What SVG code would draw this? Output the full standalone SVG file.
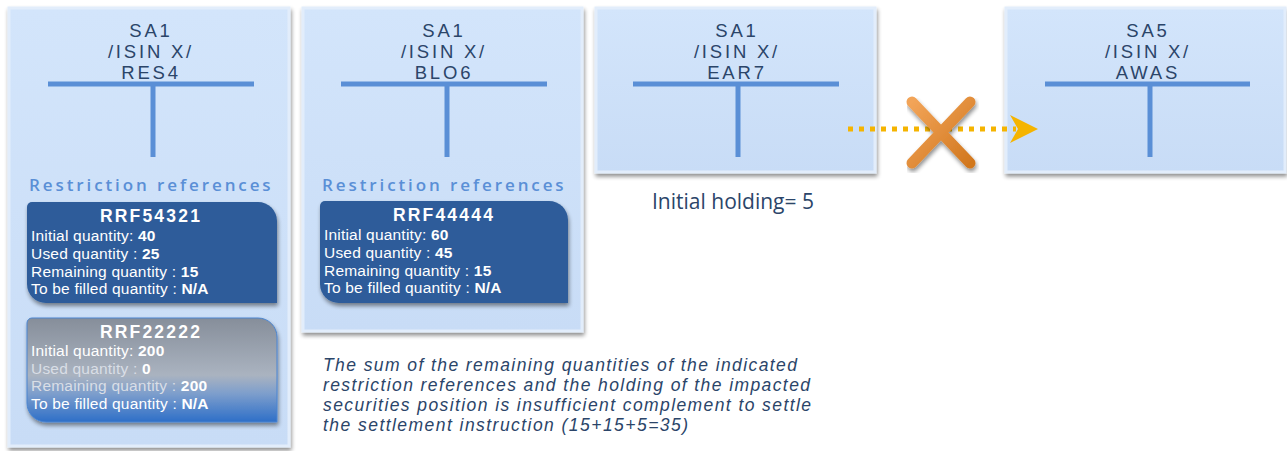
<svg xmlns="http://www.w3.org/2000/svg" width="1287" height="451" viewBox="0 0 1287 451">
<style>
.hdr{font-family:"Liberation Sans",Arial,sans-serif;font-size:18.5px;fill:#2b4569;text-anchor:middle;letter-spacing:2.8px}
.tbar{stroke:#5a8fd6;stroke-width:5;fill:none}
.rr{font-family:"Open Sans","Liberation Sans",sans-serif;font-size:17px;font-weight:600;fill:#5a8fd6;letter-spacing:2.9px}
.rt{font-family:"Liberation Sans",Arial,sans-serif;font-size:17.5px;font-weight:700;fill:#fff;text-anchor:middle;letter-spacing:2.2px}
.ln{font-family:"Liberation Sans",Arial,sans-serif;font-size:15.5px;fill:#fff;letter-spacing:0.2px}
.ln tspan.b{font-weight:700}
.fade{fill:#d9dee6}
.it{font-family:"Liberation Sans",Arial,sans-serif;font-size:17.5px;font-style:italic;fill:#2b4569}
.hold{font-family:"Open Sans","Liberation Sans",sans-serif;font-size:21px;fill:#2b4569}
.box{fill:url(#boxg);stroke:#e2edfb;stroke-width:3}
</style>
<defs>
<filter id="sh" x="-10%" y="-10%" width="125%" height="125%">
<feGaussianBlur in="SourceAlpha" stdDeviation="2"/>
<feOffset dx="1" dy="3"/>
<feComponentTransfer><feFuncA type="linear" slope="0.45"/></feComponentTransfer>
<feMerge><feMergeNode/><feMergeNode in="SourceGraphic"/></feMerge>
</filter>
<linearGradient id="boxg" x1="0" y1="0" x2="0" y2="1">
<stop offset="0" stop-color="#d3e5fb"/>
<stop offset="1" stop-color="#c8dcf6"/>
</linearGradient>
<linearGradient id="grayg" x1="0" y1="0" x2="0" y2="1">
<stop offset="0" stop-color="#868e9a"/>
<stop offset="0.55" stop-color="#aab3c0"/>
<stop offset="0.72" stop-color="#7f9fcc"/>
<stop offset="1" stop-color="#2e6fc8"/>
</linearGradient>
<linearGradient id="xg" x1="0" y1="0" x2="1" y2="1">
<stop offset="0" stop-color="#f2a458"/>
<stop offset="1" stop-color="#d2781f"/>
</linearGradient>
</defs>

<g id="node-res4">
<rect class="box" x="9" y="8" width="280" height="438" filter="url(#sh)"/>
<text class="hdr" x="151" y="36.5">SA1</text>
<text class="hdr" x="151" y="57.5">/ISIN X/</text>
<text class="hdr" x="151" y="78.5">RES4</text>
<path class="tbar" d="M48 84H254M153 84V157"/>
<text class="rr" x="29" y="191">Restriction references</text>
<g id="rrf54321">
<path d="M32 202H258A19 19 0 0 1 277 221V303H46A19 19 0 0 1 27 284V207A5 5 0 0 1 32 202Z" fill="#2d5c9a" filter="url(#sh)"/>
<text class="rt" x="151" y="222">RRF54321</text>
<text class="ln" x="31" y="241">Initial quantity: <tspan class="b">40</tspan></text>
<text class="ln" x="31" y="259">Used quantity : <tspan class="b">25</tspan></text>
<text class="ln" x="31" y="276.5">Remaining quantity : <tspan class="b">15</tspan></text>
<text class="ln" x="31" y="294">To be filled quantity : <tspan class="b">N/A</tspan></text>
</g>
<g id="rrf22222">
<path d="M32 318H258A19 19 0 0 1 277 337V422H46A19 19 0 0 1 27 403V323A5 5 0 0 1 32 318Z" fill="url(#grayg)" stroke="#4a84d0" stroke-width="1" filter="url(#sh)"/>
<text class="rt" x="151" y="338">RRF22222</text>
<text class="ln" x="31" y="356">Initial quantity: <tspan class="b">200</tspan></text>
<text class="ln fade" x="31" y="373.5">Used quantity : <tspan class="b" fill="#fff">0</tspan></text>
<text class="ln fade" x="31" y="391">Remaining quantity : <tspan class="b" fill="#fff">200</tspan></text>
<text class="ln" x="31" y="408.5">To be filled quantity : <tspan class="b">N/A</tspan></text>
</g>
</g>

<g id="node-blo6">
<rect class="box" x="303" y="8" width="279" height="323" filter="url(#sh)"/>
<text class="hdr" x="444" y="36.5">SA1</text>
<text class="hdr" x="444" y="57.5">/ISIN X/</text>
<text class="hdr" x="444" y="78.5">BLO6</text>
<path class="tbar" d="M341 84H547M447 84V157"/>
<text class="rr" x="322" y="191">Restriction references</text>
<g id="rrf44444">
<path d="M325 201H549A19 19 0 0 1 568 220V303H339A19 19 0 0 1 320 284V206A5 5 0 0 1 325 201Z" fill="#2d5c9a" filter="url(#sh)"/>
<text class="rt" x="444" y="221">RRF44444</text>
<text class="ln" x="324" y="240">Initial quantity: <tspan class="b">60</tspan></text>
<text class="ln" x="324" y="258">Used quantity : <tspan class="b">45</tspan></text>
<text class="ln" x="324" y="275.5">Remaining quantity : <tspan class="b">15</tspan></text>
<text class="ln" x="324" y="293">To be filled quantity : <tspan class="b">N/A</tspan></text>
</g>
</g>

<g id="node-ear7">
<rect class="box" x="596" y="8" width="279" height="164" filter="url(#sh)"/>
<text class="hdr" x="737" y="36.5">SA1</text>
<text class="hdr" x="737" y="57.5">/ISIN X/</text>
<text class="hdr" x="737" y="78.5">EAR7</text>
<path class="tbar" d="M633 84H839M738 84V157"/>
</g>

<g id="node-awas">
<rect class="box" x="1006" y="8" width="279" height="164" filter="url(#sh)"/>
<text class="hdr" x="1148" y="36.5">SA5</text>
<text class="hdr" x="1148" y="57.5">/ISIN X/</text>
<text class="hdr" x="1148" y="78.5">AWAS</text>
<path class="tbar" d="M1045 84H1250M1150 84V157"/>
</g>

<g id="connectors">
<line x1="848" y1="129" x2="1016" y2="129" stroke="#f5b400" stroke-width="5" stroke-dasharray="5 6"/>
<path d="M1010 115L1038 129L1010 143L1018 129Z" fill="#f5b400"/>
<g filter="url(#sh)">
<path d="M912 102L970 163M970 102L912 163" stroke="url(#xg)" stroke-width="11" stroke-linecap="round"/>
</g>
</g>

<text class="hold" x="652" y="209">Initial holding= 5</text>

<g id="note">
<text class="it" x="323" y="371" textLength="474" lengthAdjust="spacing">The sum of the remaining quantities of the indicated</text>
<text class="it" x="323" y="391" textLength="487" lengthAdjust="spacing">restriction references and the holding of the impacted</text>
<text class="it" x="323" y="411" textLength="488" lengthAdjust="spacing">securities position is insufficient complement to settle</text>
<text class="it" x="323" y="431" textLength="365" lengthAdjust="spacing">the settlement instruction (15+15+5=35)</text>
</g>
</svg>
